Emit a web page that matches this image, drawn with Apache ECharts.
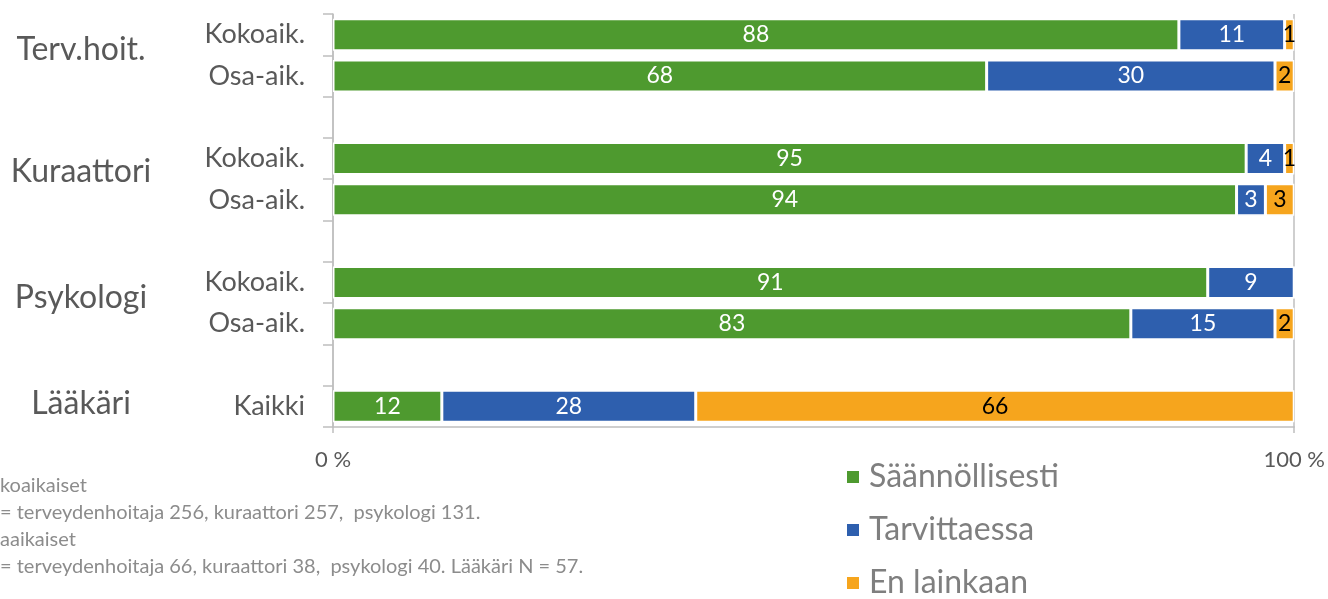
<!DOCTYPE html>
<html>
<head>
<meta charset="utf-8">
<script src="https://cdn.jsdelivr.net/npm/echarts@6/dist/echarts.min.js"></script>
<style>
  html, body { margin: 0; padding: 0; background: #fff; }
  #chart { width: 1328px; height: 599px; }
</style>
</head>
<body>
<div id="chart"></div>
<script>
// rows top to bottom, '' = empty spacer row
const rows = ['Kokoaik.', 'Osa-aik.', '', 'Kokoaik.', 'Osa-aik.', '', 'Kokoaik.', 'Osa-aik.', '', 'Kaikki']
const groups = ['Terv.hoit.', 'Kuraattori', 'Psykologi', 'Lääkäri']
const seriesNames = ['Säännöllisesti', 'Tarvittaessa', 'En lainkaan']
const saannollisesti = [88, 68, null, 95, 94, null, 91, 83, null, 12]
const tarvittaessa = [11, 30, null, 4, 3, null, 9, 15, null, 28]
const enLainkaan = [1, 2, null, 1, 3, null, 0, 2, null, 66]
const xTicks = ['0 %', '100 %']
const notes = [
  'koaikaiset',
  '= terveydenhoitaja 256, kuraattori 257,  psykologi 131.',
  'aaikaiset',
  '= terveydenhoitaja 66, kuraattori 38,  psykologi 40. Lääkäri N = 57.'
]

const colors = ['#4e9a2f', '#2e5fae', '#f6a51d']
const font = 'Lato, "Open Sans", sans-serif'
const raw = [saannollisesti, tarvittaessa, enLainkaan]

// 100 % stacked: share of each row total
const totals = rows.map((r, i) => raw.reduce((s, a) => s + (a[i] || 0), 0))
const share = arr => arr.map((v, i) => v == null ? null : { value: v / totals[i] * 100, raw: v })

const chart = echarts.init(document.getElementById('chart'))

const groupY = [50, 172, 298, 404]

chart.setOption({
  animation: false,
  color: colors,
  textStyle: { fontFamily: font },
  grid: { left: 333, right: 33, top: 14, bottom: 172 },
  // one legend per entry so they stack without wrapping
  legend: seriesNames.map((n, i) => ({
    left: 843,
    top: 459 + i * 53,
    padding: 2,
    itemWidth: 14,
    itemHeight: 14,
    icon: 'rect',
    textStyle: { fontSize: 32, color: '#7f7f7f', fontFamily: font, padding: [0, 0, 0, 4] },
    data: [n]
  })),
  xAxis: {
    type: 'value',
    min: 0,
    max: 100,
    interval: 100,
    axisLine: { show: true, lineStyle: { color: '#bfbfbf', width: 1.5 } },
    axisTick: { show: true, length: 6, lineStyle: { color: '#bfbfbf', width: 1.5 } },
    axisLabel: {
      margin: 22,
      fontSize: 22,
      color: '#595959',
      fontFamily: font,
      formatter: v => xTicks[v / 100]
    },
    splitLine: { show: true, lineStyle: { color: '#bfbfbf', width: 1.5 } }
  },
  yAxis: {
    type: 'category',
    inverse: true,
    data: rows,
    axisLine: { show: true, lineStyle: { color: '#bfbfbf', width: 1.5 } },
    axisTick: { show: true, length: 10, lineStyle: { color: '#bfbfbf', width: 1.5 } },
    axisLabel: { fontSize: 27, color: '#595959', margin: 28, fontFamily: font }
  },
  series: raw.map((arr, k) => ({
    name: seriesNames[k],
    type: 'bar',
    stack: 'total',
    barWidth: 32,
    data: share(arr),
    itemStyle: { borderColor: '#fff', borderWidth: 1.5 },
    label: {
      show: true,
      position: 'inside',
      fontSize: 23,
      fontFamily: font,
      color: k === 2 ? '#000' : '#fff',
      formatter: p => (p.data && p.data.raw) ? String(p.data.raw) : ''
    }
  })),
  graphic: groups.map((g, i) => ({
    type: 'text',
    x: 81,
    y: groupY[i],
    style: {
      text: g,
      fontSize: 32,
      fontFamily: font,
      fill: '#595959',
      align: 'center',
      verticalAlign: 'middle'
    }
  })).concat(notes.map((t, i) => ({
    type: 'text',
    x: 0,
    y: 486 + i * 27,
    style: {
      text: t,
      fontSize: 20,
      fontFamily: font,
      fill: '#8c8c8c',
      verticalAlign: 'middle'
    }
  })))
})
</script>
</body>
</html>
